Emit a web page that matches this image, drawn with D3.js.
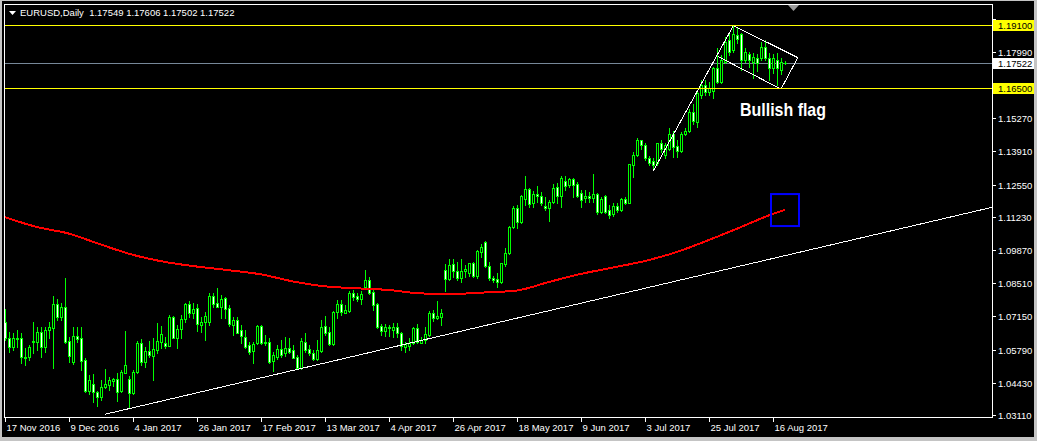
<!DOCTYPE html>
<html><head><meta charset="utf-8">
<script src="https://cdn.jsdelivr.net/npm/d3@7"></script>
<style>
html,body{margin:0;padding:0;background:#000;overflow:hidden}
svg{display:block}
</style></head><body>
<svg id="c" width="1037" height="441"></svg>
<script>
// ---------- DATA ----------
const symbolTitle = "EURUSD,Daily";
const lastOHLC = [1.17549, 1.17606, 1.17502, 1.17522];

const opens = [
1.0691,1.0625,1.0591,1.0625,1.0625,1.0550,1.0547,1.0609,1.0611,1.0652,
1.0588,1.0659,1.0666,1.0764,1.0714,1.0752,1.0614,1.0529,1.0634,1.0625,
1.0536,1.0410,1.0436,1.0404,1.0386,1.0424,1.0434,1.0450,1.0457,1.0410,
1.0484,1.0457,1.0402,1.0486,1.0604,1.0529,1.0573,1.0554,1.0577,1.0611,
1.0604,1.0595,1.0711,1.0627,1.0662,1.0703,1.0764,1.0730,1.0748,1.0680,
1.0691,1.0690,1.0798,1.0768,1.0752,1.0789,1.0748,1.0680,1.0700,1.0659,
1.0629,1.0598,1.0574,1.0604,1.0675,1.0610,1.0610,1.0533,1.0550,1.0580,
1.0563,1.0584,1.0577,1.0547,1.0504,1.0611,1.0581,1.0563,1.0539,1.0574,
1.0675,1.0652,1.0602,1.0732,1.0766,1.0730,1.0739,1.0812,1.0798,1.0785,
1.0834,1.0864,1.0816,1.0766,1.0675,1.0656,1.0670,1.0659,1.0670,1.0645,
1.0588,1.0595,1.0604,1.0666,1.0607,1.0618,1.0639,1.0730,1.0707,1.0714,
1.0904,1.0867,1.0930,1.0902,1.0871,1.0901,1.0894,1.0932,1.0882,1.0980,
1.1019,1.0922,1.0871,1.0867,1.0855,1.0930,1.0973,1.1080,1.1160,1.1101,
1.1195,1.1236,1.1181,1.1217,1.1208,1.1167,1.1160,1.1185,1.1244,1.1210,
1.1271,1.1253,1.1278,1.1257,1.1222,1.1201,1.1208,1.1201,1.1215,1.1144,
1.1208,1.1151,1.1133,1.1167,1.1151,1.1196,1.1181,1.1335,1.1376,1.1437,
1.1417,1.1362,1.1351,1.1342,1.1424,1.1376,1.1399,1.1464,1.1413,1.1392,
1.1464,1.1476,1.1554,1.1512,1.1622,1.1663,1.1635,1.1638,1.1731,1.1676,
1.1758,1.1847,1.1806,1.1868,1.1870,1.1765,1.1789,1.1758,1.1775,1.1775,
1.1820,1.1775,1.1731,1.1765,1.1724,1.17549];

const highs = [
1.0744,1.0652,1.0645,1.0659,1.0645,1.0584,1.0598,1.0691,1.0673,1.0670,
1.0670,1.0693,1.0798,1.0785,1.0768,1.0871,1.0632,1.0670,1.0670,1.0670,
1.0543,1.0475,1.0479,1.0410,1.0454,1.0498,1.0468,1.0463,1.0481,1.0495,
1.0655,1.0470,1.0495,1.0614,1.0621,1.0591,1.0614,1.0627,1.0689,1.0675,
1.0632,1.0721,1.0716,1.0680,1.0721,1.0771,1.0778,1.0771,1.0766,1.0714,
1.0734,1.0812,1.0809,1.0830,1.0803,1.0796,1.0762,1.0714,1.0714,1.0680,
1.0659,1.0611,1.0611,1.0680,1.0680,1.0639,1.0625,1.0570,1.0598,1.0618,
1.0632,1.0627,1.0598,1.0557,1.0625,1.0645,1.0598,1.0577,1.0618,1.0700,
1.0716,1.0670,1.0738,1.0782,1.0782,1.0762,1.0820,1.0823,1.0812,1.0820,
1.0905,1.0878,1.0830,1.0768,1.0684,1.0684,1.0680,1.0689,1.0689,1.0652,
1.0611,1.0625,1.0670,1.0684,1.0629,1.0670,1.0737,1.0741,1.0779,1.0744,
1.0928,1.0949,1.0949,1.0937,1.0949,1.0926,1.0935,1.0939,1.0987,1.1010,
1.1024,1.0939,1.0880,1.0894,1.0935,1.0994,1.1085,1.1169,1.1172,1.1212,
1.1290,1.1240,1.1229,1.1251,1.1224,1.1205,1.1192,1.1257,1.1260,1.1288,
1.1288,1.1283,1.1283,1.1267,1.1233,1.1233,1.1226,1.1298,1.1222,1.1205,
1.1212,1.1172,1.1181,1.1181,1.1199,1.1205,1.1341,1.1389,1.1444,1.1439,
1.1426,1.1372,1.1362,1.1426,1.1437,1.1426,1.1485,1.1475,1.1437,1.1471,
1.1485,1.1564,1.1587,1.1638,1.1683,1.1683,1.1676,1.1738,1.1813,1.1786,
1.1861,1.1875,1.1909,1.1895,1.1875,1.1813,1.1797,1.1793,1.1789,1.1840,
1.1847,1.1793,1.1789,1.1793,1.1772,1.17606];

const lows = [
1.0618,1.0570,1.0577,1.0591,1.0525,1.0516,1.0536,1.0563,1.0577,1.0550,
1.0570,1.0625,1.0504,1.0700,1.0700,1.0604,1.0529,1.0520,1.0611,1.0495,
1.0406,1.0397,1.0365,1.0347,1.0372,1.0420,1.0413,1.0429,1.0369,1.0406,
1.0481,1.0338,1.0399,1.0481,1.0516,1.0509,1.0547,1.0454,1.0563,1.0584,
1.0584,1.0593,1.0625,1.0586,1.0625,1.0693,1.0714,1.0707,1.0655,1.0652,
1.0618,1.0680,1.0755,1.0752,1.0707,1.0707,1.0675,1.0639,1.0645,1.0607,
1.0586,1.0561,1.0522,1.0602,1.0602,1.0598,1.0525,1.0492,1.0539,1.0550,
1.0552,1.0563,1.0543,1.0499,1.0499,1.0570,1.0557,1.0536,1.0536,1.0570,
1.0639,1.0598,1.0598,1.0707,1.0721,1.0727,1.0734,1.0782,1.0779,1.0766,
1.0830,1.0807,1.0741,1.0666,1.0639,1.0634,1.0634,1.0632,1.0632,1.0577,
1.0570,1.0577,1.0602,1.0604,1.0604,1.0607,1.0634,1.0697,1.0704,1.0680,
1.0819,1.0864,1.0875,1.0864,1.0857,1.0878,1.0880,1.0878,1.0874,1.0960,
1.0919,1.0864,1.0857,1.0837,1.0850,1.0923,1.0969,1.1076,1.1076,1.1096,
1.1172,1.1164,1.1164,1.1185,1.1172,1.1151,1.1106,1.1181,1.1179,1.1164,
1.1233,1.1246,1.1203,1.1203,1.1164,1.1185,1.1185,1.1185,1.1133,1.1137,
1.1140,1.1117,1.1126,1.1144,1.1147,1.1176,1.1179,1.1287,1.1372,1.1399,
1.1355,1.1335,1.1314,1.1335,1.1389,1.1365,1.1396,1.1368,1.1368,1.1389,
1.1458,1.1470,1.1503,1.1492,1.1608,1.1622,1.1622,1.1611,1.1670,1.1670,
1.1752,1.1786,1.1798,1.1834,1.1724,1.1755,1.1738,1.1690,1.1720,1.1765,
1.1765,1.1683,1.1711,1.1663,1.1707,1.17502];

const closes = [
1.0625,1.0588,1.0625,1.0624,1.0550,1.0545,1.0588,1.0614,1.0652,1.0588,
1.0659,1.0670,1.0764,1.0714,1.0752,1.0611,1.0554,1.0634,1.0623,1.0533,
1.0410,1.0454,1.0404,1.0386,1.0427,1.0436,1.0454,1.0458,1.0406,1.0486,
1.0514,1.0402,1.0486,1.0604,1.0529,1.0573,1.0557,1.0580,1.0614,1.0643,
1.0595,1.0711,1.0627,1.0662,1.0703,1.0764,1.0730,1.0744,1.0682,1.0693,
1.0718,1.0798,1.0766,1.0755,1.0785,1.0745,1.0682,1.0700,1.0648,1.0634,
1.0591,1.0570,1.0602,1.0675,1.0607,1.0604,1.0529,1.0557,1.0580,1.0557,
1.0584,1.0570,1.0545,1.0504,1.0614,1.0577,1.0563,1.0539,1.0577,1.0670,
1.0648,1.0602,1.0733,1.0766,1.0734,1.0741,1.0812,1.0796,1.0785,1.0807,
1.0864,1.0812,1.0762,1.0673,1.0656,1.0670,1.0666,1.0673,1.0645,1.0593,
1.0600,1.0604,1.0666,1.0611,1.0618,1.0641,1.0727,1.0709,1.0716,1.0730,
1.0867,1.0926,1.0902,1.0871,1.0901,1.0908,1.0932,1.0882,1.0983,1.0998,
1.0922,1.0871,1.0864,1.0857,1.0932,1.0973,1.1080,1.1160,1.1101,1.1208,
1.1236,1.1176,1.1217,1.1208,1.1179,1.1160,1.1183,1.1240,1.1210,1.1281,
1.1249,1.1278,1.1253,1.1208,1.1192,1.1208,1.1201,1.1215,1.1144,1.1195,
1.1144,1.1131,1.1167,1.1151,1.1196,1.1181,1.1338,1.1376,1.1437,1.1419,
1.1362,1.1344,1.1335,1.1424,1.1399,1.1419,1.1464,1.1410,1.1392,1.1464,
1.1476,1.1554,1.1515,1.1630,1.1663,1.1635,1.1650,1.1731,1.1676,1.1765,
1.1840,1.1799,1.1872,1.1851,1.1765,1.1797,1.1765,1.1779,1.1752,1.1820,
1.1772,1.1731,1.1772,1.1731,1.1758,1.17522];

// 200-period moving average, read every 8 bars
const maIndex = [0,8,16,24,32,40,48,56,64,72,80,88,96,104,112,120,128,136,144,152,160,168,176,184,192,195];
const maValues = [1.1121,1.1081,1.1054,1.1009,1.0967,1.0938,1.0919,1.0904,1.0887,1.0858,1.0838,1.0830,1.0823,1.0809,1.0807,1.0813,1.0821,1.0856,1.0889,1.0915,1.0942,1.0979,1.1028,1.1081,1.1135,1.1151];

// time axis labels (one every 16 bars)
const dateLabels = ["17 Nov 2016","9 Dec 2016","4 Jan 2017","26 Jan 2017","17 Feb 2017","13 Mar 2017","4 Apr 2017","26 Apr 2017","18 May 2017","9 Jun 2017","3 Jul 2017","25 Jul 2017","16 Aug 2017"];
const dateLabelStep = 16;

// price axis tick labels
const priceTicks = [1.19350,1.17990,1.15270,1.13910,1.12550,1.11230,1.09870,1.08510,1.07150,1.05790,1.04430,1.03110];

// horizontal levels (yellow) and bid
const levelPrices = [1.19100, 1.16500];
const bidPrice = 1.17522;

// support trend line (two anchors, extended as a ray)
const trendIdx = [25, 200];
const trendPrice = [1.0314, 1.0983];

// bullish flag drawing: pole + flag outline
const flagIdx = [162.1, 182.1, 198.2, 194.0, 178.2];
const flagPrice = [1.1312, 1.1906, 1.1775, 1.1646, 1.1780];
const flagText = "Bullish flag";
const flagTextAnchor = [183.75, 1.1535];

// blue rectangle
const boxIdx = [191.5, 198.5];
const boxPrice = [1.1216, 1.1085];

// ---------- SCALES ----------
const W = 1037, H = 441;
const plot = {x0: 5, x1: 992, y0: 5, y1: 417};
const x = d3.scaleLinear().domain([0, 195]).range([5, 785]);
const y = d3.scaleLinear().domain([1.0311, 1.1935]).range([415, 18.55]);
const yr = v => Math.round(y(v));
const FONT = '"Liberation Sans", Arial, sans-serif';

const svg = d3.select("#c");
svg.append("rect").attr("width", W).attr("height", H).attr("fill", "#c4c4c4");
svg.append("rect").attr("x", 2).attr("y", 1).attr("width", 1032).attr("height", 436).attr("fill", "#000");

const defs = svg.append("defs");
defs.append("clipPath").attr("id", "plotclip").append("rect")
  .attr("x", 5).attr("y", 5).attr("width", 987).attr("height", 412);
defs.append("clipPath").attr("id", "topclip").append("rect")
  .attr("x", 993).attr("y", 5).attr("width", 44).attr("height", 14.5);

const gp = svg.append("g").attr("clip-path", "url(#plotclip)");

// bid line (behind candles)
gp.append("line").attr("x1", 5).attr("x2", 992)
  .attr("y1", yr(bidPrice) + 0.5).attr("y2", yr(bidPrice) + 0.5)
  .attr("stroke", "#778899").attr("stroke-width", 1);

// candles
const idx = d3.range(opens.length);
const gc = gp.append("g").attr("shape-rendering", "crispEdges");
idx.forEach(i => {
  const cx = Math.round(x(i));
  const o = opens[i], c = closes[i];
  const hi = yr(highs[i]), lo = yr(lows[i]);
  const top = yr(Math.max(o, c)), bot = yr(Math.min(o, c));
  gc.append("rect").attr("x", cx).attr("y", hi).attr("width", 1).attr("height", lo - hi + 1).attr("fill", "#00ff00");
  gc.append("rect").attr("x", cx - 1).attr("y", top).attr("width", 3).attr("height", bot - top + 1).attr("fill", "#00ff00");
  if (bot - top - 1 > 0) {
    gc.append("rect").attr("x", cx).attr("y", top + 1).attr("width", 1).attr("height", bot - top - 1)
      .attr("fill", c >= o ? "#000000" : "#ffffff");
  }
});

// moving average
const maLine = d3.line().x((d, k) => x(maIndex[k])).y(d => y(d)).curve(d3.curveMonotoneX);
gp.append("path").attr("d", maLine(maValues)).attr("fill", "none")
  .attr("stroke", "#ff0000").attr("stroke-width", 2).attr("shape-rendering", "crispEdges");

// trend line ray
const slope = (trendPrice[1] - trendPrice[0]) / (trendIdx[1] - trendIdx[0]);
const endIdx = x.invert(plot.x1);
gp.append("line")
  .attr("x1", x(trendIdx[0])).attr("y1", y(trendPrice[0]))
  .attr("x2", x(endIdx)).attr("y2", y(trendPrice[0] + slope * (endIdx - trendIdx[0])))
  .attr("stroke", "#fff").attr("stroke-width", 1).attr("shape-rendering", "crispEdges");

// flag outline
const flagLine = d3.line().x((d, k) => x(flagIdx[k])).y(d => y(d));
gp.append("path").attr("d", flagLine(flagPrice)).attr("fill", "none")
  .attr("stroke", "#fff").attr("stroke-width", 1).attr("shape-rendering", "crispEdges");

// blue box
gp.append("rect")
  .attr("x", x(boxIdx[0])).attr("y", y(boxPrice[0]))
  .attr("width", x(boxIdx[1]) - x(boxIdx[0])).attr("height", y(boxPrice[1]) - y(boxPrice[0]))
  .attr("fill", "none").attr("stroke", "#0000ff").attr("stroke-width", 2);

// yellow levels
levelPrices.forEach(p => {
  gp.append("line").attr("x1", 5).attr("x2", 992)
    .attr("y1", yr(p) + 0.5).attr("y2", yr(p) + 0.5)
    .attr("stroke", "#ffff00").attr("stroke-width", 1);
});

// annotation text
gp.append("text").attr("x", x(flagTextAnchor[0])).attr("y", y(flagTextAnchor[1]))
  .attr("fill", "#fff").attr("font-family", FONT).attr("font-weight", "bold")
  .attr("font-size", "18.5px").attr("textLength", 86).attr("lengthAdjust", "spacingAndGlyphs")
  .text(flagText);

// plot border
svg.append("rect").attr("x", 4.5).attr("y", 4.5).attr("width", 988).attr("height", 413)
  .attr("fill", "none").attr("stroke", "#fff").attr("stroke-width", 1);

// price axis
const yAxisScale = y.copy().interpolate(d3.interpolateRound);
const gy = svg.append("g").attr("transform", "translate(992,0)")
  .call(d3.axisRight(yAxisScale).tickValues(priceTicks).tickSize(4).tickPadding(2).tickFormat(d3.format(".5f")));
gy.select(".domain").remove();
gy.attr("font-family", FONT).attr("font-size", "9.5px");
gy.selectAll("line").attr("stroke", "#fff");
gy.selectAll("text").attr("fill", "#fff");
// the top label is partly hidden behind the level tag, as in MT4
gy.selectAll(".tick").filter(d => d === priceTicks[0]).select("text").attr("clip-path", "url(#topclip)")
  .attr("transform", "translate(-992,0)").attr("x", 998);

// time axis
const tickIdx = dateLabels.map((d, k) => k * dateLabelStep);
const gx = svg.append("g").attr("transform", "translate(0,418)")
  .call(d3.axisBottom(x).tickValues(tickIdx).tickSize(4).tickPadding(2.5).tickFormat((d, k) => dateLabels[k]));
gx.select(".domain").remove();
gx.attr("font-family", FONT).attr("font-size", "9.5px");
gx.selectAll("line").attr("stroke", "#fff");
gx.selectAll("text").attr("fill", "#fff").attr("text-anchor", "start").attr("dx", 1);

// price labels on axis
const tagData = levelPrices.map(p => ({p, bg: "#ffff00"})).concat([{p: bidPrice, bg: "#ffffff"}]);
tagData.forEach(t => {
  const cy = yr(t.p);
  svg.append("rect").attr("x", 993).attr("y", cy - 5).attr("width", 41).attr("height", 11).attr("fill", t.bg);
  svg.append("text").attr("x", 998).attr("y", cy + 4).attr("fill", "#000")
    .attr("font-family", FONT).attr("font-size", "9.5px").text(d3.format(".5f")(t.p));
});

// header
svg.append("polygon").attr("points", "9,11 16,11 12.5,15").attr("fill", "#fff");
svg.append("text").attr("x", 20).attr("y", 15.5).attr("fill", "#fff")
  .attr("font-family", FONT).attr("font-size", "9.5px").attr("xml:space", "preserve")
  .style("white-space", "pre")
  .text(symbolTitle + "  " + lastOHLC.map(d3.format(".5f")).join(" "));

// chart-shift marker
svg.append("polygon").attr("points", "788,5 799,5 793.5,11").attr("fill", "#9a9a9a");
</script>
</body></html>
